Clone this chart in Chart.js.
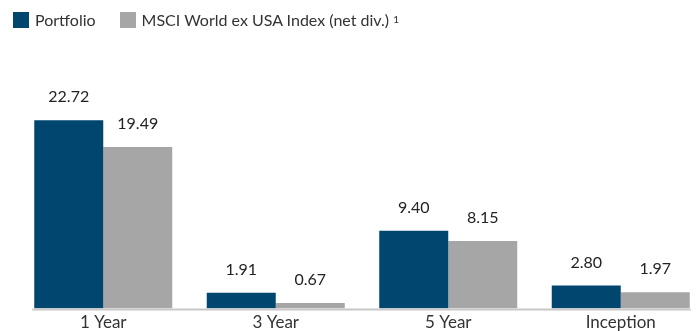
<!DOCTYPE html>
<html>
<head>
<meta charset="utf-8">
<script src="https://cdn.jsdelivr.net/npm/chart.js@4/dist/chart.umd.min.js"></script>
<style>
  html, body { margin: 0; padding: 0; background: #fff; overflow: hidden; }
  body { width: 696px; height: 331px; position: relative; font-family: Lato, "Noto Sans", sans-serif; }
  #wrap { position: absolute; left: 0; top: 0; width: 707px; height: 331px; }
  .legend { position: absolute; left: 13px; top: 10px; display: flex; align-items: center; font-size: 16px; color: #333; }
  .legend .item { display: flex; align-items: center; margin-right: 24px; }
  .legend .box { width: 16px; height: 16px; margin-right: 6px; }
  .legend sup { font-size: 10px; margin-left: 4px; position: relative; top: -1px; }
</style>
</head>
<body>
<div id="wrap"><canvas id="myChart" width="707" height="331"></canvas></div>
<div class="legend" id="legend"></div>
<script>
const categories = ['1 Year', '3 Year', '5 Year', 'Inception'];
const portfolio = [22.72, 1.91, 9.40, 2.80];
const msciIndex = [19.49, 0.67, 8.15, 1.97];
const seriesNames = ['Portfolio', 'MSCI World ex USA Index (net div.)'];
const seriesColors = ['#00466f', '#a6a6a7'];

const legendElement = document.getElementById('legend');
seriesNames.forEach((name, i) => {
    const note = i == 1 ? '<sup>1</sup>' : '';
    legendElement.innerHTML += `
        <div class="item">
            <div class="box" style="background:${seriesColors[i]}"></div>
            <span>${name}</span>${note}
        </div>
    `;
});

// values above each bar and the grey base line under the groups
const barLabels = {
    id: 'barLabels',
    afterDatasetsDraw(chart) {
        const ctx = chart.ctx;
        ctx.save();
        ctx.font = '16px Lato, "Noto Sans", sans-serif';
        ctx.fillStyle = '#222';
        ctx.textAlign = 'center';
        ctx.textBaseline = 'bottom';
        chart.data.datasets.forEach((ds, i) => {
            chart.getDatasetMeta(i).data.forEach((bar, j) => {
                ctx.fillText(ds.data[j].toFixed(2), bar.x, bar.y - 15);
            });
        });

        const first = chart.getDatasetMeta(0).data[0];
        const lastMeta = chart.getDatasetMeta(chart.data.datasets.length - 1);
        const last = lastMeta.data[lastMeta.data.length - 1];
        const y = chart.scales.y.getPixelForValue(0);
        ctx.strokeStyle = '#c8c8c8';
        ctx.lineWidth = 2;
        ctx.beginPath();
        ctx.moveTo(first.x - first.width / 2 - 2, y + 1);
        ctx.lineTo(last.x + last.width / 2 + 1, y + 1);
        ctx.stroke();
        ctx.restore();
    }
};

var config = {
    type: 'bar',
    data: {
        labels: categories,
        datasets: [{
            label: seriesNames[0],
            data: portfolio,
            backgroundColor: seriesColors[0],
            categoryPercentage: 0.8,
            barPercentage: 1.0
        }, {
            label: seriesNames[1],
            data: msciIndex,
            backgroundColor: seriesColors[1],
            categoryPercentage: 0.8,
            barPercentage: 1.0
        }]
    },
    options: {
        animation: { duration: 0 },
        responsive: false,
        layout: { padding: { left: 17, right: 0, top: 60, bottom: -6 } },
        plugins: {
            legend: { display: false },
            tooltip: { enabled: false }
        },
        scales: {
            x: {
                grid: { display: false, drawTicks: false },
                border: { display: false },
                ticks: {
                    color: '#333',
                    padding: 4,
                    font: { family: 'Lato, "Noto Sans", sans-serif', size: 17 }
                }
            },
            y: {
                display: false,
                min: 0,
                max: 30
            }
        }
    },
    plugins: [barLabels]
};

var ctx = document.getElementById('myChart').getContext('2d');
window.myBar = new Chart(ctx, config);
</script>
</body>
</html>
